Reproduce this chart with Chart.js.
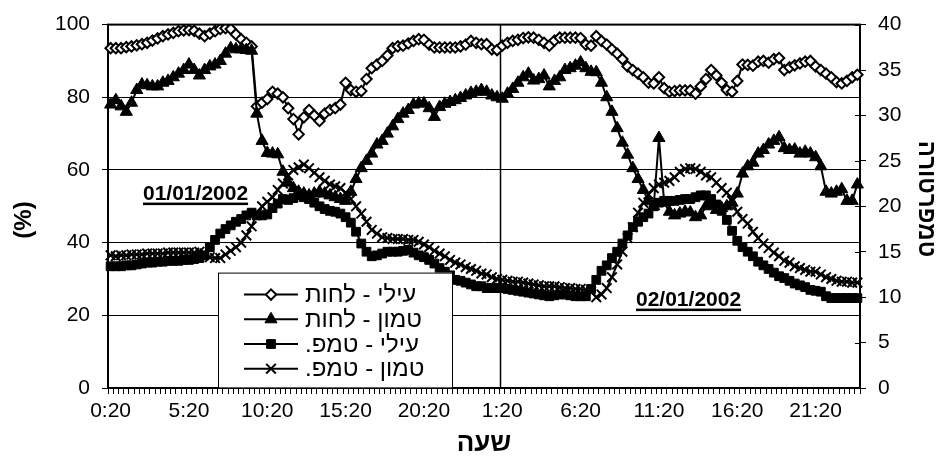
<!DOCTYPE html>
<html>
<head>
<meta charset="utf-8">
<script src="https://cdn.jsdelivr.net/npm/chart.js@4.4.1/dist/chart.umd.min.js"></script>
<style>
  html, body { margin: 0; padding: 0; background: #fff; }
  canvas { display: block; }
</style>
</head>
<body>
<canvas id="chart" width="941" height="469"></canvas>
<script>
// Time of day, one reading every 20 minutes over two days
const timeLabels = [
  '0:20','0:40','1:00','1:20','1:40','2:00','2:20','2:40','3:00','3:20','3:40','4:00',
  '4:20','4:40','5:00','5:20','5:40','6:00','6:20','6:40','7:00','7:20','7:40','8:00',
  '8:20','8:40','9:00','9:20','9:40','10:00','10:20','10:40','11:00','11:20','11:40','12:00',
  '12:20','12:40','13:00','13:20','13:40','14:00','14:20','14:40','15:00','15:20','15:40','16:00',
  '16:20','16:40','17:00','17:20','17:40','18:00','18:20','18:40','19:00','19:20','19:40','20:00',
  '20:20','20:40','21:00','21:20','21:40','22:00','22:20','22:40','23:00','23:20','23:40','0:00',
  '0:20','0:40','1:00','1:20','1:40','2:00','2:20','2:40','3:00','3:20','3:40','4:00',
  '4:20','4:40','5:00','5:20','5:40','6:00','6:20','6:40','7:00','7:20','7:40','8:00',
  '8:20','8:40','9:00','9:20','9:40','10:00','10:20','10:40','11:00','11:20','11:40','12:00',
  '12:20','12:40','13:00','13:20','13:40','14:00','14:20','14:40','15:00','15:20','15:40','16:00',
  '16:20','16:40','17:00','17:20','17:40','18:00','18:20','18:40','19:00','19:20','19:40','20:00',
  '20:20','20:40','21:00','21:20','21:40','22:00','22:20','22:40','23:00','23:20','23:40','0:00'
];

const seriesNames = ['עילי - לחות', 'טמון - לחות', 'עילי - טמפ.', 'טמון - טמפ.'];

// Relative humidity (%), upper sensor
const humidityUpper = [
  93.5, 93.5, 93.5, 93.8, 94.0, 94.3, 94.6, 95.0, 95.6, 96.2, 96.8, 97.3,
  97.7, 98.2, 98.4, 98.5, 98.3, 97.5, 96.8, 97.5, 98.2, 98.8, 99.0, 98.8,
  97.3, 96.0, 95.0, 94.0, 77.5, 78.5, 79.5, 81.5, 81.0, 80.0, 77.0, 74.0,
  69.8, 74.5, 76.5, 75.0, 73.5, 75.5, 76.5, 77.0, 78.0, 84.0, 82.0, 81.5,
  81.7, 85.0, 88.0, 89.0, 90.0, 91.5, 93.5, 94.0, 94.2, 94.8, 95.5, 96.0,
  95.8, 94.5, 93.7, 93.7, 93.7, 93.7, 93.7, 94.0, 94.5, 95.5, 95.0, 94.6,
  94.6, 93.2, 93.0, 94.2, 95.0, 95.5, 95.8, 96.3, 96.5, 96.4, 95.8, 95.0,
  94.2, 95.6, 96.4, 96.4, 96.4, 96.4, 96.3, 94.5, 94.2, 96.8, 95.5, 94.5,
  93.2, 92.0, 90.5, 88.5, 87.5, 86.5, 85.5, 84.0, 83.8, 85.5, 82.5, 81.5,
  81.7, 81.9, 81.9, 81.9, 81.0, 83.0, 85.0, 87.5, 86.0, 84.0, 82.0, 81.5,
  84.5, 89.0, 88.9, 88.7, 89.8, 90.0, 89.5, 90.5, 90.8, 87.5, 88.2, 88.8,
  89.3, 89.8, 90.0, 88.5, 87.5, 86.5, 85.5, 84.2, 83.8, 84.5, 85.5, 86.2
];

// Relative humidity (%), buried sensor
const humidityLower = [
  78.0, 79.2, 77.5, 76.0, 78.5, 82.0, 83.5, 83.3, 83.0, 83.0, 84.0, 84.5,
  85.5, 86.5, 87.5, 89.0, 87.5, 86.0, 87.5, 88.5, 89.0, 90.0, 92.0, 93.5,
  93.2, 93.2, 93.0, 92.8, 75.5, 68.0, 64.7, 64.5, 64.3, 59.5, 56.5, 55.0,
  54.0, 53.5, 53.0, 53.5, 54.0, 53.5, 53.0, 52.5, 52.0, 51.5, 54.0, 57.5,
  60.5, 62.5, 64.5, 67.0, 68.0, 70.0, 72.0, 74.0, 75.5, 76.5, 78.0, 78.3,
  78.3, 77.0, 74.6, 77.3, 78.2, 78.7, 79.2, 79.8, 80.5, 81.2, 81.5, 82.0,
  81.5, 80.5, 80.0, 79.6, 81.0, 82.3, 84.0, 85.5, 86.5, 84.6, 85.0, 86.0,
  83.0, 84.5, 85.5, 87.5, 88.0, 88.7, 89.6, 88.0, 87.0, 86.9, 84.0, 80.0,
  76.0, 71.5, 67.5, 64.2, 60.5, 57.5, 54.5, 51.5, 50.0, 68.8, 51.0, 48.5,
  47.5, 48.0, 48.5, 48.3, 47.0, 47.5, 50.0, 50.5, 49.0, 49.5, 50.0, 51.0,
  53.5, 59.0, 61.0, 62.0, 64.5, 65.5, 67.0, 68.0, 69.0, 66.0, 65.5, 65.6,
  64.5, 65.0, 64.5, 63.5, 61.0, 54.0, 53.5, 54.0, 54.7, 51.5, 51.5, 56.0
];

// Temperature (°C), upper sensor
const tempUpper = [
  13.4, 13.4, 13.4, 13.5, 13.5, 13.6, 13.7, 13.8, 13.8, 13.9, 13.9, 14.0,
  14.0, 14.0, 14.1, 14.1, 14.2, 14.3, 14.6, 15.5, 16.3, 17.0, 17.5, 17.9,
  18.3, 18.6, 19.0, 19.3, 19.0, 19.0, 19.1, 19.8, 20.3, 20.8, 20.7, 20.9,
  21.2, 21.0, 20.8, 20.4, 20.0, 19.7, 19.5, 19.4, 19.2, 18.8, 18.2, 17.2,
  15.9, 15.0, 14.5, 14.6, 14.8, 15.0, 15.0, 15.0, 15.1, 15.2, 14.9, 14.6,
  14.4, 14.1, 13.7, 13.2, 12.8, 12.4, 11.9, 11.8, 11.6, 11.4, 11.2, 11.2,
  11.0, 11.0, 11.0, 11.0, 10.9, 10.8, 10.7, 10.6, 10.5, 10.4, 10.3, 10.2,
  10.1, 10.2, 10.3, 10.3, 10.2, 10.1, 10.1, 10.1, 10.9, 11.9, 12.9, 13.5,
  14.3, 15.0, 15.9, 16.8, 17.7, 18.3, 18.8, 19.2, 20.0, 20.4, 20.6, 20.6,
  20.6, 20.7, 20.8, 20.8, 21.0, 21.2, 21.2, 20.8, 20.2, 19.5, 18.5, 17.3,
  16.2, 15.5, 15.0, 14.5, 13.9, 13.5, 13.1, 12.7, 12.3, 12.1, 11.8, 11.5,
  11.3, 11.1, 10.8, 10.7, 10.6, 10.1, 9.9, 9.9, 9.9, 9.9, 9.9, 9.9
];

// Temperature (°C), buried sensor
const tempLower = [
  14.6, 14.5, 14.6, 14.6, 14.7, 14.7, 14.7, 14.8, 14.8, 14.8, 14.8, 14.9,
  14.9, 14.9, 14.9, 14.9, 14.9, 15.0, 14.8, 14.4, 14.3, 14.3, 14.7, 15.1,
  15.5, 16.0, 16.8, 17.8, 19.2, 20.0, 20.5, 21.0, 21.8, 22.5, 23.4, 24.0,
  24.3, 24.6, 24.2, 23.7, 23.2, 22.8, 22.4, 22.2, 22.0, 21.5, 20.8, 20.0,
  19.2, 18.3, 17.4, 17.0, 16.6, 16.5, 16.4, 16.4, 16.4, 16.3, 16.3, 16.1,
  15.8, 15.5, 15.1, 14.8, 14.5, 14.1, 13.8, 13.6, 13.3, 13.1, 12.9, 12.6,
  12.5, 12.2, 12.0, 11.9, 11.8, 11.7, 11.7, 11.6, 11.5, 11.4, 11.3, 11.2,
  11.2, 11.2, 11.1, 11.0, 11.0, 10.9, 10.9, 10.8, 10.6, 10.0, 10.3, 11.0,
  12.2, 13.6, 15.0, 16.5, 17.7, 19.3, 20.4, 21.3, 22.0, 22.4, 22.6, 22.8,
  23.2, 23.8, 24.1, 24.2, 24.1, 23.8, 23.4, 23.2, 22.6, 22.0, 21.5, 20.6,
  19.4, 18.6, 18.1, 17.2, 16.5, 15.9, 15.4, 14.9, 14.5, 14.0, 13.8, 13.4,
  13.2, 13.0, 12.8, 12.8, 12.5, 12.2, 12.0, 11.8, 11.7, 11.7, 11.6, 11.6
];

const axisTitles = { humidity: '(%)', temperature: 'טמפרטורה', time: 'שעה' };
const dateNotes = ['01/01/2002', '02/01/2002'];
const separatorAt = 75;   // category where the vertical separator is drawn
const labelEvery = 15;    // a time label every five hours

const FONT = "'Liberation Sans', Arial, sans-serif";
Chart.defaults.font.family = FONT;
Chart.defaults.font.size = 21;
Chart.defaults.color = '#000';

const markerStyles = [
  { pointStyle: 'rectRot', pointRadius: 5.2, pointBackgroundColor: '#fff', pointBorderWidth: 2 },
  { pointStyle: 'triangle', pointRadius: 7, pointBackgroundColor: '#000', pointBorderWidth: 1 },
  { pointStyle: 'rect', pointRadius: 6.2, pointBackgroundColor: '#000', pointBorderWidth: 1 },
  { pointStyle: 'crossRot', pointRadius: 6.8, pointBackgroundColor: '#000', pointBorderWidth: 2 }
];

function makeDataset(i, data, axis) {
  return Object.assign({
    label: seriesNames[i],
    data: data,
    yAxisID: axis,
    borderColor: '#000',
    borderWidth: 2,
    pointBorderColor: '#000',
    pointHoverRadius: 0,
    tension: 0,
    fill: false,
    order: 4 - i
  }, markerStyles[i]);
}

// Marker glyphs for the legend box, sized like the chart's own points
function drawMarker(ctx, style, x, y) {
  const r = style.pointRadius;
  ctx.save();
  ctx.strokeStyle = '#000';
  ctx.fillStyle = style.pointBackgroundColor;
  ctx.lineWidth = style.pointBorderWidth;
  ctx.beginPath();
  if (style.pointStyle === 'rectRot') {
    ctx.moveTo(x - r, y); ctx.lineTo(x, y - r); ctx.lineTo(x + r, y); ctx.lineTo(x, y + r);
    ctx.closePath(); ctx.fill(); ctx.stroke();
  } else if (style.pointStyle === 'triangle') {
    for (let k = 0; k < 3; k++) {
      const a = k * 2 * Math.PI / 3;
      const px = x + Math.sin(a) * r, py = y - Math.cos(a) * r;
      if (k === 0) ctx.moveTo(px, py); else ctx.lineTo(px, py);
    }
    ctx.closePath(); ctx.fill(); ctx.stroke();
  } else if (style.pointStyle === 'rect') {
    const s = Math.SQRT1_2 * r;
    ctx.rect(x - s, y - s, 2 * s, 2 * s); ctx.fill(); ctx.stroke();
  } else {
    const s = Math.SQRT1_2 * r;
    ctx.moveTo(x - s, y - s); ctx.lineTo(x + s, y + s);
    ctx.moveTo(x - s, y + s); ctx.lineTo(x + s, y - s);
    ctx.stroke();
  }
  ctx.restore();
}

function underlinedText(ctx, text, x, y) {
  ctx.save();
  ctx.font = 'bold 21px ' + FONT;
  ctx.textAlign = 'left';
  ctx.textBaseline = 'alphabetic';
  ctx.fillStyle = '#000';
  ctx.fillText(text, x, y);
  const w = ctx.measureText(text).width;
  ctx.fillRect(x, y + 3, w, 2.5);
  ctx.restore();
}

const decorations = {
  id: 'decorations',
  beforeDatasetsDraw(chart) {
    const { ctx, chartArea: a, scales } = chart;
    const x = scales.x, y1 = scales.y1;
    ctx.save();
    ctx.strokeStyle = '#000';
    // vertical separator between the two days
    const sx = Math.round((x.getPixelForValue(separatorAt - 1) + x.getPixelForValue(separatorAt)) / 2) + 0.5;
    ctx.lineWidth = 1.5;
    ctx.beginPath(); ctx.moveTo(sx, a.top); ctx.lineTo(sx, a.bottom); ctx.stroke();
    // inner half of the cross tick marks on the temperature axis
    ctx.lineWidth = 1;
    y1.ticks.forEach(t => {
      const ty = Math.round(y1.getPixelForValue(t.value)) + 0.5;
      ctx.beginPath(); ctx.moveTo(a.right - 5, ty); ctx.lineTo(a.right, ty); ctx.stroke();
    });
    ctx.restore();
  },
  afterDraw(chart) {
    const { ctx, chartArea: a } = chart;
    ctx.save();
    // top frame line
    ctx.fillStyle = '#000';
    ctx.fillRect(a.left - 1, a.top - 1, a.right - a.left + 2, 2);

    // date notes
    underlinedText(ctx, dateNotes[0], a.left + 35, a.top + 175);
    underlinedText(ctx, dateNotes[1], a.left + 528, a.top + 281);

    // legend box
    const bx = a.left + 110, by = a.top + 248, bw = 234, bh = 115;
    ctx.fillStyle = '#fff';
    ctx.fillRect(bx, by, bw, bh);
    ctx.strokeStyle = '#000';
    ctx.lineWidth = 1;
    ctx.strokeRect(bx + 0.5, by + 0.5, bw, bh);
    ctx.font = '24px ' + FONT;
    ctx.textBaseline = 'middle';
    ctx.textAlign = 'left';
    ctx.direction = 'rtl';
    chart.data.datasets.forEach((ds, i) => {
      const ry = by + 22 + i * 24.7;
      ctx.strokeStyle = '#000';
      ctx.lineWidth = 2;
      ctx.beginPath(); ctx.moveTo(bx + 26, ry); ctx.lineTo(bx + 80, ry); ctx.stroke();
      drawMarker(ctx, markerStyles[i], bx + 53, ry);
      ctx.fillStyle = '#000';
      ctx.fillText(ds.label, bx + 87, ry + 1);
    });
    ctx.direction = 'ltr';

    // axis titles
    ctx.font = 'bold 24px ' + FONT;
    ctx.textAlign = 'center';
    ctx.textBaseline = 'middle';
    ctx.save();
    ctx.translate(24, 220);
    ctx.rotate(-Math.PI / 2);
    ctx.fillText(axisTitles.humidity, 0, 0);
    ctx.restore();
    ctx.save();
    ctx.translate(926, 199);
    ctx.rotate(Math.PI / 2);
    ctx.fillText(axisTitles.temperature, 0, 0);
    ctx.restore();
    ctx.font = 'bold 26px ' + FONT;
    ctx.fillText(axisTitles.time, (a.left + a.right) / 2, 444);
    ctx.restore();
  }
};

new Chart(document.getElementById('chart'), {
  type: 'line',
  data: {
    labels: timeLabels,
    datasets: [
      makeDataset(0, humidityUpper, 'y'),
      makeDataset(1, humidityLower, 'y'),
      makeDataset(2, tempUpper, 'y1'),
      makeDataset(3, tempLower, 'y1')
    ]
  },
  options: {
    responsive: false,
    animation: false,
    events: [],
    layout: { padding: { top: 20, left: 0, right: 0, bottom: 0 } },
    plugins: { legend: { display: false }, tooltip: { enabled: false } },
    scales: {
      x: {
        type: 'category',
        offset: true,
        afterFit(s) { s.height = 81; },
        grid: { offset: true, drawOnChartArea: false, drawTicks: true, tickLength: 6, color: '#000', lineWidth: 1 },
        border: { display: true, color: '#000', width: 2 },
        ticks: {
          autoSkip: false, maxRotation: 0, minRotation: 0, padding: 5,
          callback(value, index) { return index % labelEvery === 0 ? this.getLabelForValue(value) : ''; }
        }
      },
      y: {
        position: 'left',
        min: 0, max: 100,
        afterFit(s) { s.width = 108; },
        ticks: { stepSize: 20, padding: 12 },
        grid: { color: '#000', lineWidth: 1, tickLength: 6 },
        border: { display: true, color: '#000', width: 2 }
      },
      y1: {
        position: 'right',
        min: 0, max: 40,
        afterFit(s) { s.width = 81; },
        ticks: { stepSize: 5, padding: 12 },
        grid: { drawOnChartArea: false, color: '#000', lineWidth: 1, tickLength: 6 },
        border: { display: true, color: '#000', width: 2 }
      }
    }
  },
  plugins: [decorations]
});
</script>
</body>
</html>
